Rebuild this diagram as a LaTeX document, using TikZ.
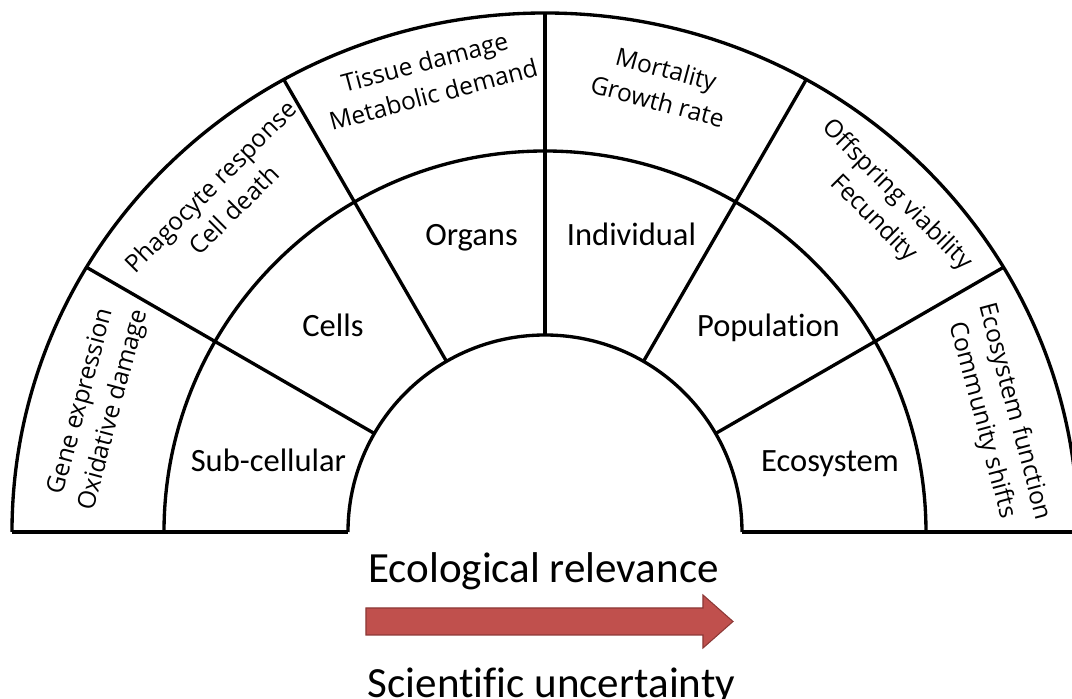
\documentclass[tikz,border=0pt]{standalone}
\usepackage{fontspec}
\setmainfont{Carlito}[Ligatures=NoCommon]
\newfontfamily\effectfont{Open Sans}
\definecolor{arrowred}{HTML}{C0504D}
\definecolor{arrowedge}{HTML}{8C3836}
\begin{document}
\begin{tikzpicture}[line width=1.9pt,
		ringlabel/.style={font=\fontsize{18.5}{20}\selectfont, anchor=base, inner sep=0pt},
		effectlabel/.style={font=\effectfont\fontsize{14}{19}\selectfont, align=center, inner sep=0pt},
		bigtext/.style={font=\fontsize{24.5}{26}\selectfont, anchor=base, inner sep=0pt}]
	\useasboundingbox (-10.9,-3.34) rectangle (10.54,10.64);
	\clip (-10.9,-3.34) rectangle (10.54,10.64);
	\draw (-10.66,0) arc[start angle=180, end angle=0, x radius=10.66, y radius=10.38];
	\draw (-7.62,0) arc[start angle=180, end angle=0, radius=7.62];
	\draw (-3.94,0) arc[start angle=180, end angle=0, radius=3.94];
	\draw (-10.66,0) -- (-3.94,0);
	\draw (3.94,0) -- (10.66,0);
	\draw (30:3.94) -- (30:10.59);
	\draw (60:3.94) -- (60:10.45);
	\draw (90:3.94) -- (90:10.38);
	\draw (120:3.94) -- (120:10.45);
	\draw (150:3.94) -- (150:10.59);
	\node[ringlabel] (subcell) at (-5.53,1.20) {Sub-cellular};
	\node[ringlabel] (cells) at (-4.24,3.90) {Cells};
	\node[ringlabel] (organs) at (-1.47,5.72) {Organs};
	\node[ringlabel] (individual) at (1.73,5.72) {Individual};
	\node[ringlabel] (population) at (4.47,3.90) {Population};
	\node[ringlabel] (ecosystem) at (5.70,1.20) {Ecosystem};
	\node[effectlabel, rotate=75] (geneexpr) at (-8.94,2.52) {Gene expression\\Oxidative damage};
	\node[effectlabel, rotate=45] (phagocyte) at (-6.46,6.68) {Phagocyte response\\Cell death};
	\node[effectlabel, rotate=15] (tissue) at (-2.32,9.08) {Tissue damage\\Metabolic demand};
	\node[effectlabel, rotate=-15] (mortality) at (2.34,8.94) {Mortality\\Growth rate};
	\node[effectlabel, rotate=-45] (offspring) at (6.80,6.50) {Offspring viability\\Fecundity};
	\node[effectlabel, rotate=-75] (ecofunction) at (9.06,2.32) {Ecosystem function\\Community shifts};
	\node[bigtext] (relevance) at (-0.03,-1.02) {Ecological relevance};
	\draw[fill=arrowred, draw=arrowedge, line width=0.6pt] (-3.58,-1.52) -- (3.16,-1.52) -- (3.16,-1.26) -- (3.76,-1.79) -- (3.16,-2.32) -- (3.16,-2.06) -- (-3.58,-2.06) -- cycle;
	\node[bigtext] (uncertainty) at (0.13,-3.32) {Scientific uncertainty};
\end{tikzpicture}
\end{document}
